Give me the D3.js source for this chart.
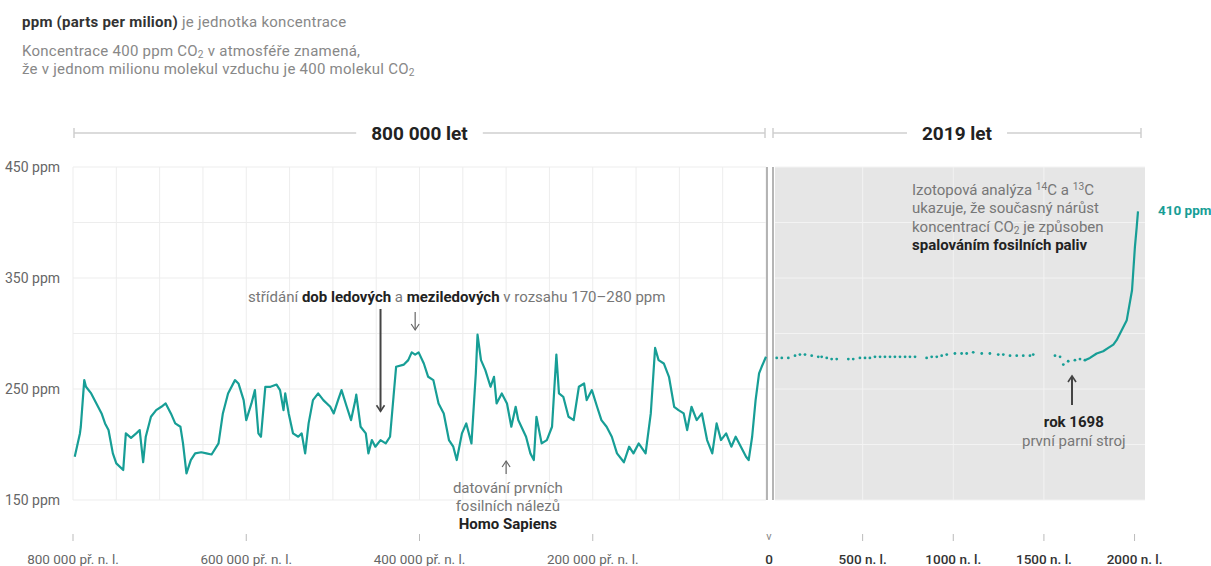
<!DOCTYPE html>
<html lang="cs">
<head>
<meta charset="utf-8">
<script src="https://cdn.jsdelivr.net/npm/d3@7"></script>
<style>
  body { margin: 0; background: #fff; }
  svg text { font-family: Roboto, "Noto Sans", sans-serif; }
</style>
</head>
<body>
<div class="container"></div>
<script>
var WIDTH = 1211;
var HEIGHT = 566;
var TEAL = '#179e96';

// ice core record, thousands of years before present
var iceKyr = [798,792,791,787,785,779,773,767,763,759,
  754,750,742,739,733,727,723,719,716,710,
  704,698,693,687,682,676,673,669,664,659,
  652,646,640,632,627,621,613,609,603,600,
  594,590,586,583,578,572,565,561,557,555,
  551,546,540,536,532,528,523,517,511,503,
  499,494,490,484,479,474,473,468,462,459,
  455,451,445,439,434,430,427,418,413,409,
  405,401,395,390,384,378,372,366,361,357,
  351,346,340,335,333,329,324,318,314,311,
  305,299,294,289,286,277,272,268,265,259,
  253,247,242,239,234,228,222,216,210,207,
  201,195,190,184,178,172,164,158,153,147,
  139,133,128,124,118,112,106,101,95,91,
  86,80,74,68,62,57,52,46,40,35,
  29,23,20,16,12,8,5,0];
var icePpm = [189,210,216,258,252,246,237,228,219,213,
  192,183,177,210,206,210,213,184,207,225,
  231,234,237,228,219,216,201,174,186,192,
  193,192,191,201,228,246,258,255,240,222,
  237,249,210,207,252,252,254,249,231,246,
  228,210,207,210,192,219,240,246,240,234,
  228,240,249,234,222,240,245,216,210,192,
  204,198,204,201,207,243,270,272,276,283,
  281,283,273,261,258,237,228,204,198,186,
  210,219,201,264,299,276,267,252,261,237,
  246,237,216,234,222,207,192,186,225,201,
  204,216,281,246,243,225,222,252,255,240,
  249,234,222,216,207,192,184,198,192,201,
  192,228,287,276,273,261,234,231,228,213,
  234,222,228,204,192,219,204,210,198,207,
  198,189,186,207,240,264,270,279];

// last two millennia, single measurements (years AD)
var dotYears = [26,54,90,127,154,182,219,255,274,302,
  329,357,421,448,485,513,540,568,596,623,
  651,678,706,734,761,789,853,881,909,936,
  964,1009,1046,1074,1110,1157,1202,1248,1276,1313,
  1350,1386,1423,1441,1561,1589,1607,1634,1671,1699,1726];
var dotPpm = [278,278,278,280,281,281,280,279,279,278,
  277,277,277,277,278,278,278,279,279,279,
  279,279,279,279,279,279,278,279,279,280,
  281,282,282,282,283,282,282,281,281,280,
  280,280,280,281,280,279,272,275,276,277,276];

// continuous series since the industrial era
var lineYears = [1726,1754,1791,1827,1855,1883,1901,1929,1957,1986,2002,2012,2019];
var linePpm = [276,278,282,284,287,290,294,303,312,339,378,396,410];

var yTicks = [150,250,350,450];
var leftTicks = [-800000,-600000,-400000,-200000];
var leftTickLabels = ['800 000 př. n. l.','600 000 př. n. l.','400 000 př. n. l.','200 000 př. n. l.'];
var rightTicks = [0,500,1000,1500,2000];
var rightTickLabels = ['0','500 n. l.','1000 n. l.','1500 n. l.','2000 n. l.'];

var translate = function (x, y) {
  return 'translate(' + x + ',' + y + ')';
};

// text with a small sub/superscript part: parts = [[text, shift in px], ...]
var richText = function (sel, parts) {
  parts.forEach(function (p) {
    var ts = sel.append('tspan').text(p[0]);
    if (p[1]) ts.attr('font-size', '68%').attr('baseline-shift', p[1]);
  });
};

var loadChart = function () {
  var xL = d3.scaleLinear().domain([-800000, 0]).range([73, 766]);
  var xR = d3.scaleLinear().domain([0, 2019]).range([772, 1138]);
  var y = d3.scaleLinear().domain([150, 450]).range([500, 167]);

  var svg = d3.select('.container').append('svg')
    .attr('width', WIDTH)
    .attr('height', HEIGHT);

  // intro text
  var intro = svg.append('g').attr('font-size', 15).attr('letter-spacing', 0.25);
  var t1 = intro.append('text').attr('x', 22).attr('y', 27);
  t1.append('tspan').attr('font-weight', 'bold').attr('fill', '#333').text('ppm (parts per milion)');
  t1.append('tspan').attr('fill', '#888').text(' je jednotka koncentrace');
  richText(intro.append('text').attr('x', 22).attr('y', 56).attr('fill', '#888'),
    [['Koncentrace 400 ppm CO'], ['2', -2], [' v atmosféře znamená,']]);
  richText(intro.append('text').attr('x', 22).attr('y', 74).attr('fill', '#888'),
    [['že v jednom milionu molekul vzduchu je 400 molekul CO'], ['2', -2]]);

  // grey panel for the last 2019 years
  svg.append('rect')
    .attr('x', 775).attr('y', y(450))
    .attr('width', 1145 - 775).attr('height', y(150) - y(450))
    .attr('fill', '#e6e6e6');

  var grid = svg.append('g');
  var ppmLines = d3.range(150, 451, 50);
  grid.selectAll('.vl').data(d3.range(-800000, 1, 50000)).enter().append('line')
    .attr('x1', function (d) { return xL(d); }).attr('x2', function (d) { return xL(d); })
    .attr('y1', y(450)).attr('y2', y(150))
    .attr('stroke', '#ededed');
  grid.selectAll('.hl').data(ppmLines).enter().append('line')
    .attr('x1', xL(-800000)).attr('x2', xL(0))
    .attr('y1', function (d) { return y(d); }).attr('y2', function (d) { return y(d); })
    .attr('stroke', '#ededed');
  grid.selectAll('.vr').data([500, 1000, 1500]).enter().append('line')
    .attr('x1', function (d) { return xR(d); }).attr('x2', function (d) { return xR(d); })
    .attr('y1', y(450)).attr('y2', y(150))
    .attr('stroke', '#f3f3f3');
  grid.selectAll('.hr').data(ppmLines).enter().append('line')
    .attr('x1', 775).attr('x2', 1145)
    .attr('y1', function (d) { return y(d); }).attr('y2', function (d) { return y(d); })
    .attr('stroke', '#f3f3f3');

  // break between the two time scales
  [xL(0) + 1, xR(0) + 1].forEach(function (bx) {
    svg.append('line').attr('x1', bx).attr('x2', bx)
      .attr('y1', y(450)).attr('y2', y(150))
      .attr('stroke', '#9c9c9c').attr('stroke-width', 1.5);
  });

  // y labels
  svg.selectAll('.ylab').data(yTicks).enter().append('text')
    .attr('x', 5).attr('y', function (d) { return y(d) + 5; })
    .attr('font-size', 14).attr('fill', '#666')
    .text(function (d) { return d + ' ppm'; });

  // span headers
  var header = function (x1, x2, label) {
    var g = svg.append('g');
    var cx = (x1 + x2) / 2;
    var txt = g.append('text').attr('x', cx).attr('y', 140)
      .attr('text-anchor', 'middle').attr('font-size', 19).attr('font-weight', 'bold')
      .attr('fill', '#222').text(label);
    var half = txt.node().getComputedTextLength() / 2 + 15;
    g.append('path')
      .attr('d', 'M' + x1 + ',128V138M' + x1 + ',133H' + (cx - half) +
        'M' + (cx + half) + ',133H' + x2 + 'M' + x2 + ',128V138')
      .attr('fill', 'none').attr('stroke', '#cfcfcf').attr('stroke-width', 1.5);
  };
  header(xL(-800000) + 1, xL(0) - 1, '800 000 let');
  header(xR(0) + 1, 1141, '2019 let');

  // x ticks
  var ticks = svg.append('g');
  ticks.selectAll('.lt').data(leftTicks).enter().append('line')
    .attr('x1', function (d) { return xL(d); }).attr('x2', function (d) { return xL(d); })
    .attr('y1', 534).attr('y2', 541).attr('stroke', '#bbb');
  ticks.selectAll('.ltl').data(leftTicks).enter().append('text')
    .attr('x', function (d) { return xL(d); }).attr('y', 564)
    .attr('text-anchor', 'middle').attr('font-size', 13.5).attr('fill', '#666')
    .text(function (d, i) { return leftTickLabels[i]; });
  ticks.selectAll('.rt').data(rightTicks.slice(1)).enter().append('line')
    .attr('x1', function (d) { return xR(d); }).attr('x2', function (d) { return xR(d); })
    .attr('y1', 534).attr('y2', 541).attr('stroke', '#bbb');
  ticks.append('text').attr('x', xR(0) - 3).attr('y', 540)
    .attr('text-anchor', 'middle').attr('font-size', 11).attr('fill', '#888').text('v');
  ticks.selectAll('.rtl').data(rightTicks).enter().append('text')
    .attr('x', function (d) { return d === 0 ? xR(0) - 3 : xR(d); }).attr('y', 564)
    .attr('text-anchor', 'middle').attr('font-size', 13.5).attr('font-weight', 500).attr('fill', '#333')
    .text(function (d, i) { return rightTickLabels[i]; });

  // data
  var iceData = iceKyr.map(function (k, i) { return { x: -k * 1000, ppm: icePpm[i] }; });
  var iceLine = d3.line()
    .x(function (d) { return xL(d.x); })
    .y(function (d) { return y(d.ppm); });
  svg.append('path').datum(iceData)
    .attr('d', iceLine)
    .attr('fill', 'none').attr('stroke', TEAL).attr('stroke-width', 2.2)
    .attr('stroke-linejoin', 'round');

  var dotData = dotYears.map(function (yr, i) { return { x: yr, ppm: dotPpm[i] }; });
  svg.selectAll('.dot').data(dotData).enter().append('circle')
    .attr('cx', function (d) { return xR(d.x); })
    .attr('cy', function (d) { return y(d.ppm); })
    .attr('r', 1.4).attr('fill', TEAL);

  var recentData = lineYears.map(function (yr, i) { return { x: yr, ppm: linePpm[i] }; });
  var recentLine = d3.line()
    .x(function (d) { return xR(d.x); })
    .y(function (d) { return y(d.ppm); });
  svg.append('path').datum(recentData)
    .attr('d', recentLine)
    .attr('fill', 'none').attr('stroke', TEAL).attr('stroke-width', 2.2)
    .attr('stroke-linejoin', 'round');

  svg.append('text').attr('x', xR(2019) + 20).attr('y', y(410) + 4)
    .attr('font-size', 13.5).attr('font-weight', 'bold').attr('fill', TEAL).text('410 ppm');

  // annotations
  var arrow = function (x, yFrom, yTo, big) {
    var dir = yTo > yFrom ? 1 : -1;
    var g = svg.append('g').attr('stroke', big ? '#444' : '#666');
    g.append('line').attr('x1', x).attr('x2', x).attr('y1', yFrom).attr('y2', yTo)
      .attr('stroke-width', big ? 2 : 1.2);
    g.append('path')
      .attr('d', 'M' + (x - 4) + ',' + (yTo - dir * 6) + 'L' + x + ',' + yTo + 'L' + (x + 4) + ',' + (yTo - dir * 6))
      .attr('fill', 'none').attr('stroke-width', big ? 1.6 : 1.2);
  };

  var note = svg.append('text').attr('x', xL(-357000)).attr('y', 302)
    .attr('text-anchor', 'middle').attr('font-size', 15).attr('fill', '#777');
  note.append('tspan').text('střídání ');
  note.append('tspan').attr('font-weight', 'bold').attr('fill', '#222').text('dob ledových');
  note.append('tspan').text(' a ');
  note.append('tspan').attr('font-weight', 'bold').attr('fill', '#222').text('meziledových');
  note.append('tspan').text(' v rozsahu 170–280 ppm');
  arrow(xL(-445000), 309, y(230), true);
  arrow(xL(-405000), 312, 330, false);

  arrow(xL(-300000), 474, 461, false);
  var hs = svg.append('g').attr('font-size', 15).attr('text-anchor', 'middle');
  hs.append('text').attr('x', xL(-298000)).attr('y', 493).attr('fill', '#777').text('datování prvních');
  hs.append('text').attr('x', xL(-298000)).attr('y', 511).attr('fill', '#777').text('fosilních nálezů');
  hs.append('text').attr('x', xL(-298000)).attr('y', 529).attr('fill', '#222').attr('font-weight', 'bold').text('Homo Sapiens');

  var iso = svg.append('g').attr('font-size', 15);
  richText(iso.append('text').attr('x', 912).attr('y', 195).attr('fill', '#777'),
    [['Izotopová analýza '], ['14', 5], ['C a '], ['13', 5], ['C']]);
  iso.append('text').attr('x', 912).attr('y', 213).attr('fill', '#777').text('ukazuje, že současný nárůst');
  richText(iso.append('text').attr('x', 912).attr('y', 232).attr('fill', '#777'),
    [['koncentrací CO'], ['2', -2], [' je způsoben']]);
  iso.append('text').attr('x', 912).attr('y', 250).attr('fill', '#222').attr('font-weight', 'bold').text('spalováním fosilních paliv');

  arrow(xR(1655), 405, 376, true);
  var rok = svg.append('g').attr('font-size', 15).attr('text-anchor', 'middle');
  rok.append('text').attr('x', xR(1665)).attr('y', 427).attr('fill', '#222').attr('font-weight', 'bold').text('rok 1698');
  rok.append('text').attr('x', xR(1665)).attr('y', 446).attr('fill', '#777').text('první parní stroj');
};

window.onload = loadChart;
</script>
</body>
</html>
